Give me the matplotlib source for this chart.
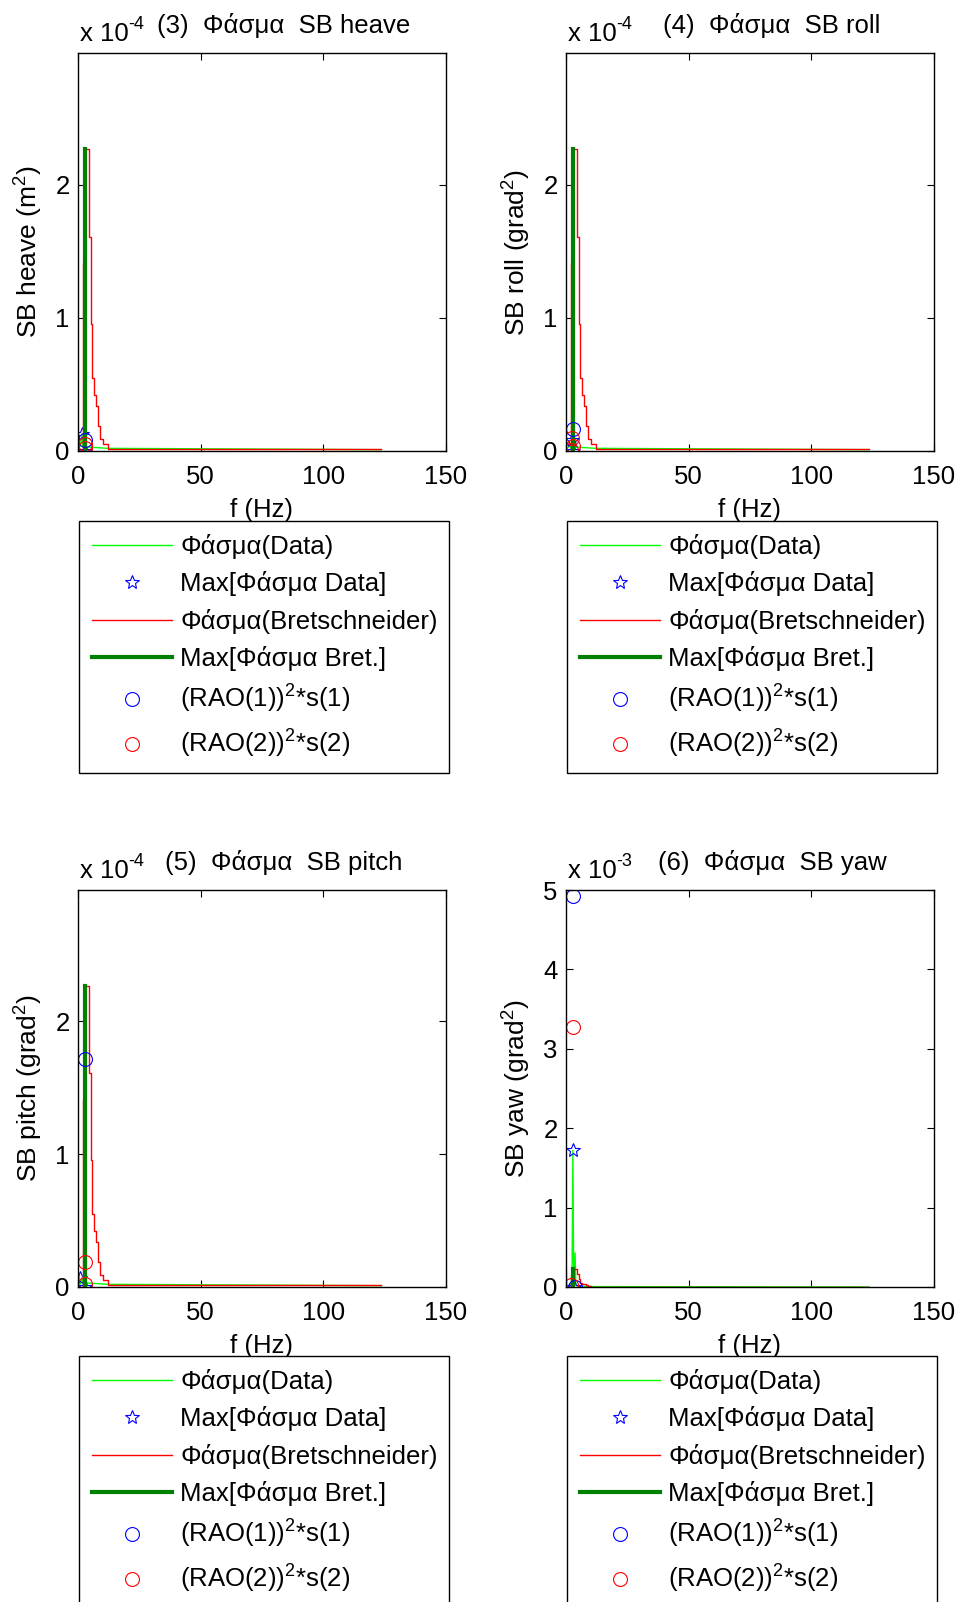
import numpy as np
import matplotlib
matplotlib.use('Agg')
import matplotlib.pyplot as plt
from matplotlib.ticker import FuncFormatter

plt.rcParams['font.family'] = ['Liberation Sans', 'DejaVu Sans']
plt.rcParams['mathtext.fontset'] = 'custom'
plt.rcParams['mathtext.rm'] = 'Liberation Sans'
plt.rcParams['mathtext.it'] = 'Liberation Sans:italic'
plt.rcParams['font.size'] = 18.5

# Bretschneider spectrum, same in every panel (units of 1e-4)
bret_f = [0.0, 2.2, 2.9, 4.6, 5.3, 5.85, 6.7, 7.3, 8.0, 9.0, 10.3, 12.4, 123.5]
bret_S = [0.0, 1.41, 2.27, 1.61, 0.955, 0.55, 0.42, 0.34, 0.19, 0.09, 0.05, 0.015, 0.015]
bret_peak_f = 3.0
bret_peak_S = 2.27

# measured spectra (thin green)
heave_f = [0.0, 1.0, 1.6, 2.0, 2.6, 3.2, 4.0, 12.0, 123.5]
heave_S = [0.02, 0.04, 0.13, 0.03, 0.10, 0.02, 0.03, 0.02, 0.01]
roll_f = [0.0, 1.0, 1.6, 2.0, 2.5, 3.2, 4.0, 12.0, 123.5]
roll_S = [0.02, 0.03, 0.06, 0.02, 0.08, 0.02, 0.03, 0.02, 0.01]
pitch_f = [0.0, 0.4, 0.8, 1.6, 2.2, 3.0, 4.0, 12.0, 123.5]
pitch_S = [0.09, 0.09, 0.02, 0.07, 0.02, 0.04, 0.03, 0.02, 0.01]
yaw_f = [0.0, 0.3, 1.0, 2.2, 2.5, 2.8, 3.1, 3.4, 3.7, 4.0, 5.0, 12.0, 123.5]
yaw_S = [0.466, 0.0, 0.01, 0.05, 0.30, 1.72, 0.25, 0.05, 0.43, 0.02, 0.01, 0.005, 0.0]

# markers: max of data (star), RAO(1)^2*s(1) (blue o), RAO(2)^2*s(2) (red o)
heave_star_f, heave_star_S = [1.6, 2.8], [0.13, 0.0]
heave_b_f, heave_b_S = [2.8], [0.08]
heave_r_f, heave_r_S = [3.0, 2.8], [0.05, 0.02]
roll_star_f, roll_star_S = [2.5, 2.8], [0.08, 0.0]
roll_b_f, roll_b_S = [3.0], [0.165]
roll_r_f, roll_r_S = [2.4, 3.0, 2.2], [0.10, 0.04, 0.005]
pitch_star_f, pitch_star_S = [1.0, 2.8], [0.07, 0.0]
pitch_b_f, pitch_b_S = [2.8], [1.72]
pitch_r_f, pitch_r_S = [2.8, 2.8], [0.19, 0.02]
yaw_star_f, yaw_star_S = [2.8, 3.2], [1.72, 0.0]
yaw_b_f, yaw_b_S = [2.8, 3.6], [4.93, 0.0]
yaw_r_f, yaw_r_S = [2.8, 2.2], [3.27, 0.02]

legend_labels = ['Φάσμα(Data)', 'Max[Φάσμα Data]', 'Φάσμα(Bretschneider)', 'Max[Φάσμα Bret.]',
                 '(RAO(1))$^2$*s(1)', '(RAO(2))$^2$*s(2)']

panels = [
    dict(rect=(78, 53, 446, 451), exp=-4, ymax=2.99, yt=[0, 1, 2], title='(3)  Φάσμα  SB heave',
         ylabel='SB heave (m$^2$)', f=heave_f, S=heave_S, sf=heave_star_f, sS=heave_star_S,
         bf=heave_b_f, bS=heave_b_S, rf=heave_r_f, rS=heave_r_S, leg=521),
    dict(rect=(566, 53, 934, 451), exp=-4, ymax=2.99, yt=[0, 1, 2], title='(4)  Φάσμα  SB roll',
         ylabel='SB roll (grad$^2$)', f=roll_f, S=roll_S, sf=roll_star_f, sS=roll_star_S,
         bf=roll_b_f, bS=roll_b_S, rf=roll_r_f, rS=roll_r_S, leg=521),
    dict(rect=(78, 890, 446, 1287), exp=-4, ymax=2.99, yt=[0, 1, 2], title='(5)  Φάσμα  SB pitch',
         ylabel='SB pitch (grad$^2$)', f=pitch_f, S=pitch_S, sf=pitch_star_f, sS=pitch_star_S,
         bf=pitch_b_f, bS=pitch_b_S, rf=pitch_r_f, rS=pitch_r_S, leg=1356),
    dict(rect=(566, 890, 934, 1287), exp=-3, ymax=5.0, yt=[0, 1, 2, 3, 4, 5], title='(6)  Φάσμα  SB yaw',
         ylabel='SB yaw (grad$^2$)', f=yaw_f, S=yaw_S, sf=yaw_star_f, sS=yaw_star_S,
         bf=yaw_b_f, bS=yaw_b_S, rf=yaw_r_f, rS=yaw_r_S, leg=1356),
]

W, H = 960, 1602
fig = plt.figure(figsize=(W / 100, H / 100), dpi=100)

for p in panels:
    x0, y0, x1, y1 = p['rect']
    ax = fig.add_axes([x0 / W, 1 - y1 / H, (x1 - x0) / W, (y1 - y0) / H])
    sc = 10.0 ** p['exp']
    bs = 1e-4

    h1, = ax.plot(p['f'], np.array(p['S']) * sc, color=(0, 1, 0), lw=1.0)
    h2, = ax.plot(p['sf'], np.array(p['sS']) * sc, ls='none', marker='*', ms=10,
                  mfc='none', mec='b', mew=0.8)
    h3, = ax.plot(bret_f, np.array(bret_S) * bs, color='r', lw=1.0, drawstyle='steps-post')
    h4, = ax.plot([bret_peak_f, bret_peak_f], [0, bret_peak_S * bs], color=(0, 0.5, 0), lw=3.0)
    h5, = ax.plot(p['bf'], np.array(p['bS']) * sc, ls='none', marker='o', ms=10,
                  mfc='none', mec='b', mew=0.8)
    h6, = ax.plot(p['rf'], np.array(p['rS']) * sc, ls='none', marker='o', ms=10,
                  mfc='none', mec='r', mew=0.8)

    ax.set_xlim(0, 150)
    ax.set_ylim(0, p['ymax'] * sc)
    ax.set_xticks([0, 50, 100, 150])
    ax.set_yticks([t * sc for t in p['yt']])
    ax.yaxis.set_major_formatter(FuncFormatter(lambda v, pos, s=sc: '%g' % round(v / s, 6)))
    ax.tick_params(direction='in', top=True, right=True, length=5, width=0.8, labelsize=18.5)
    ax.tick_params(axis='x', pad=10)
    ax.tick_params(axis='y', pad=6)
    for sp in ax.spines.values():
        sp.set_linewidth(1.0)

    ax.set_xlabel('f (Hz)')
    ax.xaxis.set_label_coords(0.5, -0.118)
    ax.set_ylabel(p['ylabel'], fontsize=19)
    ax.yaxis.set_label_coords(-0.09, 0.5)

    # MATLAB style exponent above the y axis
    ax.text(0.005, 1.03, 'x 10', transform=ax.transAxes, ha='left', va='baseline', fontsize=18.5)
    ax.annotate('%d' % p['exp'], xy=(0.005, 1.03), xycoords='axes fraction',
                xytext=(35, 9), textcoords='offset points', ha='left', va='baseline', fontsize=13)
    ax.text(0.56, 1.07, p['title'], transform=ax.transAxes,
            ha='center', va='center', fontsize=18.5)

    lx0 = (x0 + 1) / W
    lw = (x1 - x0 + 2) / W
    ly = 1 - p['leg'] / H
    leg = ax.legend([h1, h2, h3, h4, h5, h6], legend_labels,
                    loc='upper left', bbox_to_anchor=(lx0, ly - 0.2, lw, 0.2),
                    bbox_transform=fig.transFigure, mode='expand', borderaxespad=0,
                    fancybox=False, framealpha=1, edgecolor='k', fontsize=18.5,
                    handlelength=3.1, handletextpad=0.35, labelspacing=0.48, borderpad=0.5,
                    numpoints=1)
    leg.get_frame().set_linewidth(1.0)

fig.savefig('out.png', dpi=100)
